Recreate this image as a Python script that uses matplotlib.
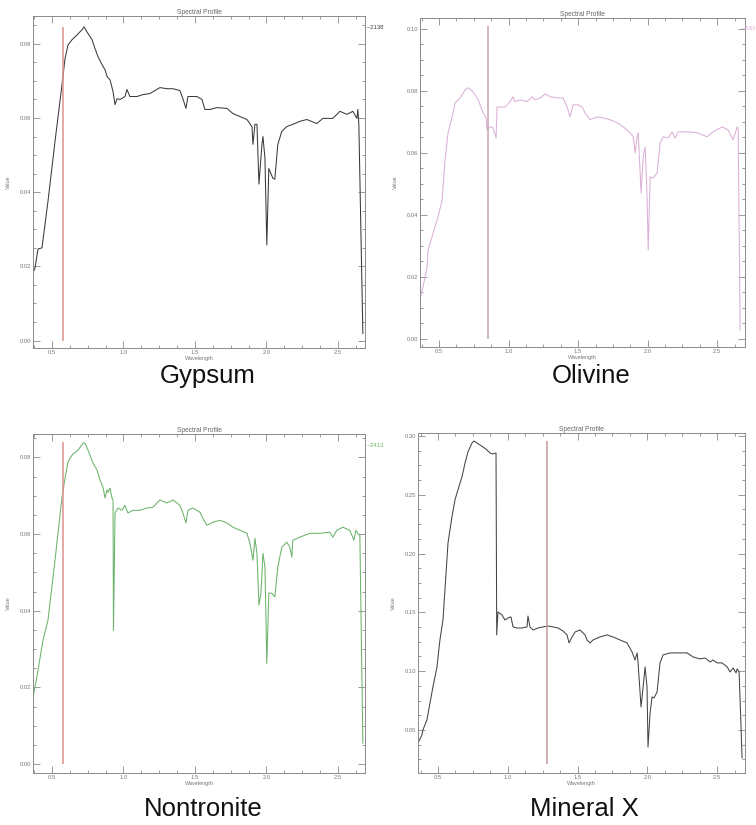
import matplotlib
matplotlib.use('Agg')
import matplotlib.pyplot as plt
from matplotlib.ticker import MultipleLocator, FormatStrFormatter

plt.rcParams['font.family'] = ['Liberation Sans', 'DejaVu Sans']

# --- spectra (wavelength in micron, reflectance value) ---
gyp_wl = [0.367, 0.381, 0.402, 0.430, 0.472, 0.521, 0.570, 0.591, 0.612, 0.640,
          0.675, 0.710, 0.724, 0.745, 0.780, 0.801, 0.822, 0.850, 0.871, 0.885,
          0.906, 0.927, 0.941, 0.955, 0.976, 1.011, 1.024, 1.045, 1.094, 1.136,
          1.185, 1.234, 1.255, 1.304, 1.346, 1.395, 1.416, 1.437, 1.451, 1.514,
          1.549, 1.570, 1.605, 1.654, 1.724, 1.766, 1.815, 1.864, 1.899, 1.906,
          1.920, 1.934, 1.948, 1.969, 1.976, 1.990, 2.003, 2.017, 2.045, 2.059,
          2.080, 2.108, 2.143, 2.185, 2.234, 2.283, 2.353, 2.395, 2.465, 2.514,
          2.563, 2.605, 2.633, 2.640, 2.647, 2.675]
gyp_val = [0.0183, 0.0196, 0.0247, 0.0250, 0.0376, 0.0537, 0.0690, 0.0760, 0.0797, 0.0811,
           0.0824, 0.0838, 0.0846, 0.0832, 0.0811, 0.0787, 0.0765, 0.0744, 0.0730, 0.0712,
           0.0703, 0.0671, 0.0636, 0.0652, 0.0650, 0.0658, 0.0677, 0.0658, 0.0658, 0.0663,
           0.0666, 0.0677, 0.0682, 0.0679, 0.0679, 0.0674, 0.0652, 0.0626, 0.0658, 0.0658,
           0.0650, 0.0623, 0.0623, 0.0628, 0.0626, 0.0612, 0.0604, 0.0596, 0.0577, 0.0529,
           0.0583, 0.0583, 0.0422, 0.0529, 0.0550, 0.0491, 0.0258, 0.0464, 0.0438, 0.0435,
           0.0529, 0.0564, 0.0577, 0.0583, 0.0591, 0.0596, 0.0585, 0.0599, 0.0599, 0.0618,
           0.0610, 0.0618, 0.0599, 0.0623, 0.0583, 0.0019]

oli_wl = [0.363, 0.378, 0.385, 0.414, 0.421, 0.493, 0.522, 0.543, 0.565, 0.594,
          0.615, 0.651, 0.687, 0.709, 0.745, 0.781, 0.817, 0.838, 0.845, 0.867,
          0.888, 0.910, 0.917, 0.939, 0.975, 1.011, 1.032, 1.047, 1.083, 1.133,
          1.169, 1.191, 1.227, 1.263, 1.299, 1.349, 1.392, 1.421, 1.442, 1.464,
          1.500, 1.529, 1.550, 1.586, 1.637, 1.680, 1.730, 1.781, 1.824, 1.874,
          1.896, 1.910, 1.924, 1.932, 1.953, 1.968, 1.982, 1.996, 2.004, 2.018,
          2.040, 2.068, 2.090, 2.112, 2.147, 2.176, 2.198, 2.219, 2.284, 2.356,
          2.428, 2.471, 2.536, 2.579, 2.615, 2.644, 2.651, 2.665]
oli_val = [0.0126, 0.0158, 0.0168, 0.0232, 0.0287, 0.0394, 0.0448, 0.0577, 0.0665, 0.0716,
           0.0761, 0.0777, 0.0803, 0.0810, 0.0797, 0.0771, 0.0729, 0.0713, 0.0674, 0.0684,
           0.0681, 0.0648, 0.0748, 0.0748, 0.0748, 0.0765, 0.0781, 0.0765, 0.0771, 0.0765,
           0.0781, 0.0771, 0.0777, 0.0790, 0.0781, 0.0777, 0.0777, 0.0748, 0.0716, 0.0755,
           0.0755, 0.0748, 0.0729, 0.0707, 0.0716, 0.0713, 0.0707, 0.0697, 0.0684, 0.0665,
           0.0652, 0.0600, 0.0652, 0.0665, 0.0471, 0.0587, 0.0619, 0.0458, 0.0287, 0.0523,
           0.0519, 0.0536, 0.0632, 0.0652, 0.0648, 0.0668, 0.0648, 0.0668, 0.0668, 0.0665,
           0.0652, 0.0668, 0.0684, 0.0674, 0.0642, 0.0684, 0.0674, 0.0029]

non_wl = [0.367, 0.381, 0.402, 0.437, 0.472, 0.521, 0.570, 0.591, 0.612, 0.640,
          0.682, 0.717, 0.731, 0.752, 0.787, 0.815, 0.836, 0.857, 0.871, 0.885,
          0.892, 0.906, 0.920, 0.927, 0.930, 0.941, 0.962, 0.990, 1.010, 1.031,
          1.066, 1.115, 1.164, 1.206, 1.255, 1.304, 1.346, 1.395, 1.416, 1.437,
          1.451, 1.486, 1.535, 1.563, 1.584, 1.626, 1.675, 1.724, 1.766, 1.815,
          1.864, 1.885, 1.906, 1.920, 1.934, 1.948, 1.962, 1.976, 1.990, 2.003,
          2.017, 2.038, 2.059, 2.080, 2.108, 2.143, 2.164, 2.178, 2.185, 2.234,
          2.304, 2.374, 2.444, 2.465, 2.493, 2.535, 2.584, 2.612, 2.626, 2.640,
          2.654, 2.675]
non_val = [0.0172, 0.0201, 0.0245, 0.0323, 0.0376, 0.0532, 0.0696, 0.0746, 0.0788, 0.0806,
           0.0819, 0.0837, 0.0837, 0.0819, 0.0785, 0.0767, 0.0741, 0.0722, 0.0694, 0.0715,
           0.0709, 0.0720, 0.0694, 0.0689, 0.0349, 0.0655, 0.0668, 0.0662, 0.0675, 0.0655,
           0.0662, 0.0662, 0.0668, 0.0670, 0.0689, 0.0681, 0.0689, 0.0675, 0.0655, 0.0629,
           0.0662, 0.0668, 0.0657, 0.0636, 0.0623, 0.0631, 0.0636, 0.0629, 0.0618, 0.0610,
           0.0602, 0.0576, 0.0532, 0.0589, 0.0550, 0.0415, 0.0446, 0.0550, 0.0514, 0.0263,
           0.0446, 0.0446, 0.0436, 0.0514, 0.0566, 0.0579, 0.0566, 0.0540, 0.0584, 0.0592,
           0.0602, 0.0602, 0.0605, 0.0592, 0.0610, 0.0618, 0.0610, 0.0584, 0.0610, 0.0602,
           0.0597, 0.0055]

minx_wl = [0.357, 0.385, 0.392, 0.421, 0.443, 0.464, 0.493, 0.514, 0.536, 0.550,
           0.572, 0.600, 0.622, 0.643, 0.672, 0.694, 0.715, 0.744, 0.758, 0.780,
           0.801, 0.823, 0.851, 0.873, 0.894, 0.916, 0.921, 0.930, 0.959, 0.980,
           1.002, 1.023, 1.038, 1.066, 1.102, 1.138, 1.145, 1.159, 1.181, 1.217,
           1.253, 1.289, 1.324, 1.360, 1.396, 1.425, 1.439, 1.461, 1.482, 1.518,
           1.554, 1.568, 1.590, 1.611, 1.661, 1.711, 1.754, 1.805, 1.855, 1.891,
           1.912, 1.927, 1.934, 1.955, 1.970, 1.984, 1.998, 2.005, 2.020, 2.034,
           2.048, 2.070, 2.091, 2.113, 2.163, 2.235, 2.285, 2.328, 2.378, 2.414,
           2.450, 2.471, 2.500, 2.536, 2.572, 2.593, 2.615, 2.636, 2.643, 2.658,
           2.679]
minx_val = [0.0389, 0.0457, 0.0500, 0.0585, 0.0730, 0.0866, 0.1036, 0.1265, 0.1435, 0.1690,
            0.2090, 0.2311, 0.2456, 0.2541, 0.2651, 0.2770, 0.2864, 0.2940, 0.2957, 0.2940,
            0.2923, 0.2906, 0.2881, 0.2855, 0.2847, 0.2855, 0.1308, 0.1503, 0.1478, 0.1435,
            0.1452, 0.1461, 0.1376, 0.1367, 0.1367, 0.1376, 0.1469, 0.1376, 0.1350, 0.1367,
            0.1376, 0.1384, 0.1376, 0.1367, 0.1342, 0.1308, 0.1240, 0.1291, 0.1333, 0.1350,
            0.1308, 0.1265, 0.1240, 0.1265, 0.1291, 0.1308, 0.1291, 0.1265, 0.1240, 0.1163,
            0.1095, 0.1155, 0.1070, 0.0696, 0.0866, 0.1036, 0.0866, 0.0355, 0.0645, 0.0781,
            0.0772, 0.0823, 0.1070, 0.1138, 0.1155, 0.1155, 0.1155, 0.1121, 0.1104, 0.1112,
            0.1078, 0.1095, 0.1070, 0.1070, 0.1036, 0.0993, 0.1027, 0.0985, 0.1019, 0.0993,
            0.0262]

names = ['Gypsum', 'Olivine', 'Nontronite', 'Mineral X']
legend_ids = ['2138', '2093', '2413', '']
cursor_wl = [0.577, 0.850, 0.577, 1.28]
cursor_lo = [0.0, 0.0, 0.0, 0.021]
cursor_hi = [0.0846, 0.101, 0.084, 0.296]

# per-panel layout (pixel boxes in a 756x825 figure) and axis ranges
W, H = 756, 825
boxes = [(33, 16, 365, 348), (420, 18, 745, 347),
         (33, 434, 365, 773), (418, 433, 745, 773)]
xlims = [(0.367, 2.69), (0.363, 2.70), (0.367, 2.69), (0.357, 2.70)]
ylims = [(-0.002, 0.0875), (-0.0026, 0.1035), (-0.0023, 0.0861), (0.0134, 0.3025)]
ymajor = [0.02, 0.02, 0.02, 0.05]
yminor = [0.005, 0.005, 0.005, 0.0125]
line_colors = ['#3a3a3a', '#dcb0d6', '#6bb36b', '#444444']
cursor_colors = ['#dc8f8f', '#c8a2b4', '#dc8f8f', '#c49a9a']
caption_pos = [(208, 376), (591, 376), (203, 809), (584, 809)]

fig = plt.figure(figsize=(W / 100, H / 100), dpi=100)

series = [(gyp_wl, gyp_val), (oli_wl, oli_val), (non_wl, non_val), (minx_wl, minx_val)]
for i, (wl, val) in enumerate(series):
    x0, y0, x1, y1 = boxes[i]
    ax = fig.add_axes([x0 / W, 1 - y1 / H, (x1 - x0) / W, (y1 - y0) / H])
    ax.plot(wl, val, color=line_colors[i], lw=0.75)
    ax.vlines(cursor_wl[i], cursor_lo[i], cursor_hi[i], color=cursor_colors[i], lw=1.1)
    ax.set_xlim(*xlims[i])
    ax.set_ylim(*ylims[i])

    ax.xaxis.set_major_locator(MultipleLocator(0.5))
    ax.xaxis.set_minor_locator(MultipleLocator(0.125))
    ax.yaxis.set_major_locator(MultipleLocator(ymajor[i]))
    ax.yaxis.set_minor_locator(MultipleLocator(yminor[i]))
    ax.xaxis.set_major_formatter(FormatStrFormatter('%.1f'))
    ax.yaxis.set_major_formatter(FormatStrFormatter('%.2f'))
    ax.tick_params(which='both', direction='in', top=True, right=True,
                   color='#8a8a8a', width=0.6, labelsize=4.2, labelcolor='#777777', pad=1.5)
    ax.tick_params(which='major', length=5)
    ax.tick_params(which='minor', length=2.5)
    for s in ax.spines.values():
        s.set_color('#8a8a8a')
        s.set_linewidth(0.7)

    ax.set_title('Spectral Profile', fontsize=4.8, color='#666666', pad=1.5)
    ax.set_xlabel('Wavelength', fontsize=4, color='#777777', labelpad=0.5)
    ax.set_ylabel('Value', fontsize=4, color='#777777', labelpad=6)
    if legend_ids[i]:
        if x1 + 16 > W:
            # no room past the right frame: pin the tag to the figure edge
            fig.text((W - 1) / W, 1 - (y0 + 11) / H, '\u2013' + legend_ids[i],
                     fontsize=3.4, color=line_colors[i], ha='right', va='center')
        else:
            ax.text(1.005, 0.965, '\u2013' + legend_ids[i], transform=ax.transAxes,
                    fontsize=4.2, color=line_colors[i], ha='left', va='center',
                    clip_on=False)

    cx, cy = caption_pos[i]
    fig.text(cx / W, 1 - cy / H, names[i], fontsize=18.5, ha='center', va='center',
             color='#111111')

fig.savefig('out.png', dpi=100)
